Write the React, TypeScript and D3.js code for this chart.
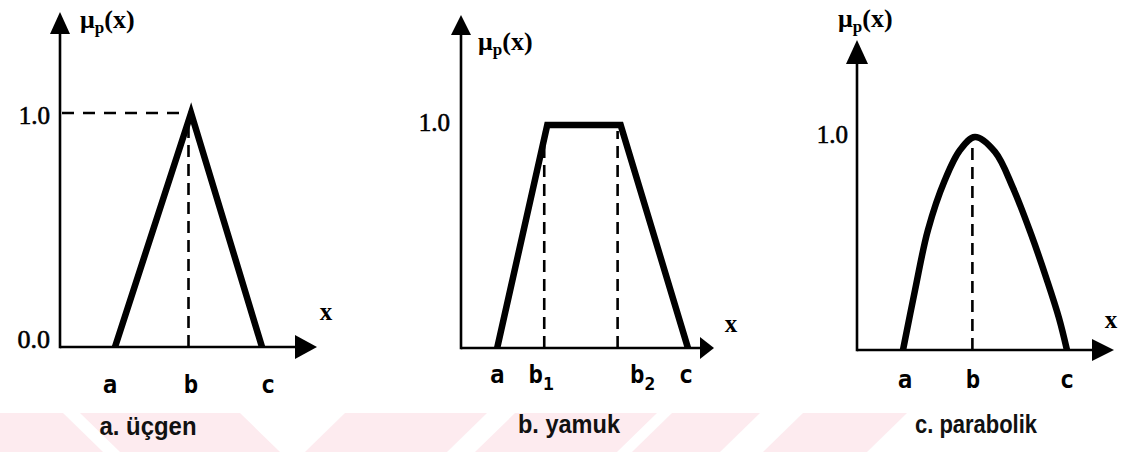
import React from "react";
import * as d3 from "d3";

// Membership functions, x given in percent of the horizontal axis length, mu in [0, 1]
const triangleX = [21.4, 51.0, 78.6];
const triangleMu = [0, 1, 0];
const triangleTicks = ["a", "b", "c"];

const trapezoidX = [14.3, 34.1, 63.1, 89.7];
const trapezoidMu = [0, 1, 1, 0];
const trapezoidTicks = ["a", "b1", "b2", "c"];

const parabolaX = [17.9, 22.6, 27.6, 34.2, 40.1, 45.9, 53.7, 60.7, 67.7, 73.9, 78.6, 81.7];
const parabolaMu = [0, 0.282, 0.563, 0.798, 0.939, 1.0, 0.93, 0.761, 0.545, 0.329, 0.15, 0];
const parabolaTicks = ["a", "b", "c"];

const captions = ["a. üçgen", "b. yamuk", "c. parabolik"];
const levelOne = "1.0";
const levelZero = "0.0";

const W = 1135;
const H = 452;

type Layout = {
  ox: number; // y axis x position
  oy: number; // x axis y position
  tipX: number; // x arrow tip
  tipY: number; // y arrow tip
  oneY: number; // pixel height of mu = 1
  arrowX: [number, number]; // length, half width
  arrowY: [number, number];
  muLabel: [number, number];
  oneLabel: [number, number];
  zeroLabel?: [number, number];
  xLabel: [number, number];
  tickBaseline: number;
  tickDx: number[];
  caption: [number, number, number];
};

const layouts: Layout[] = [
  {
    ox: 60, oy: 347, tipX: 317, tipY: 12, oneY: 113,
    arrowX: [22, 12], arrowY: [22, 10],
    muLabel: [80, 28], oneLabel: [50, 124], zeroLabel: [50, 348],
    xLabel: [326, 320], tickBaseline: 393, tickDx: [-5, 0, 6],
    caption: [148, 435, 97],
  },
  {
    ox: 461, oy: 348, tipX: 714, tipY: 15, oneY: 125,
    arrowX: [14, 11], arrowY: [20, 10],
    muLabel: [478, 50], oneLabel: [450, 131],
    xLabel: [731, 332], tickBaseline: 383, tickDx: [0, -6, 22, -2],
    caption: [569, 433, 102],
  },
  {
    ox: 857, oy: 350, tipX: 1114, tipY: 40, oneY: 137,
    arrowX: [22, 11], arrowY: [24, 11],
    muLabel: [838, 27], oneLabel: [848, 143],
    xLabel: [1111, 328], tickBaseline: 388, tickDx: [2, -2, 0],
    caption: [976, 433, 122],
  },
];

// Light diagonal bands behind the captions: [topLeft, topRight, bottomLeft, bottomRight]
const bandTop = 413;
const bandBottom = 452;
const bandShapes: [number, number, number, number][] = [
  [0, 63, 0, 103],
  [80, 240, 120, 280],
  [345, 487, 305, 447],
  [515, 657, 475, 617],
  [672, 760, 632, 720],
  [803, 907, 763, 867],
];

const serif = "'Liberation Serif', 'DejaVu Serif', serif";
const mono = "'DejaVu Sans Mono', monospace";
const sans = "'Liberation Sans', Arial, sans-serif";

type PanelProps = {
  layout: Layout;
  xs: number[];
  mus: number[];
  ticks: string[];
  smooth?: boolean;
  caption: string;
  guides: { vertical: number[]; horizontal?: number };
  showZero?: boolean;
};

function Panel({ layout, xs, mus, ticks, smooth, caption, guides, showZero }: PanelProps) {
  const x = d3.scaleLinear().domain([0, 100]).range([layout.ox, layout.tipX]);
  const y = d3.scaleLinear().domain([0, 1]).range([layout.oy, layout.oneY]);
  const pts = xs.map((v, i) => [v, mus[i]] as [number, number]);
  const line = d3
    .line<[number, number]>()
    .x((d) => x(d[0]))
    .y((d) => y(d[1]))
    .curve(smooth ? d3.curveCatmullRom.alpha(0.5) : d3.curveLinear);

  const tickXs = smooth
    ? [xs[0], xs[mus.indexOf(d3.max(mus) as number)], xs[xs.length - 1]]
    : xs;

  const [axL, axW] = layout.arrowX;
  const [ayL, ayW] = layout.arrowY;
  const arrowXPath = `M${layout.tipX},${layout.oy} L${layout.tipX - axL},${layout.oy - axW} L${layout.tipX - axL},${layout.oy + axW} Z`;
  const arrowYPath = `M${layout.ox},${layout.tipY} L${layout.ox - ayW},${layout.tipY + ayL} L${layout.ox + ayW},${layout.tipY + ayL} Z`;

  return (
    <g>
      {/* axes */}
      <line x1={layout.ox} y1={layout.oy} x2={layout.tipX - axL + 2} y2={layout.oy} stroke="#000" strokeWidth={2.6} />
      <line x1={layout.ox} y1={layout.oy + 1.3} x2={layout.ox} y2={layout.tipY + ayL - 2} stroke="#000" strokeWidth={2.6} />
      <path d={arrowXPath} fill="#000" />
      <path d={arrowYPath} fill="#000" />

      {/* dashed guides */}
      {guides.horizontal !== undefined && (
        <line
          x1={layout.ox + 2}
          x2={x(guides.horizontal)}
          y1={y(1)}
          y2={y(1)}
          stroke="#000"
          strokeWidth={2.6}
          strokeDasharray="12,9"
        />
      )}
      {guides.vertical.map((v, i) => (
        <line
          key={i}
          x1={x(v)}
          x2={x(v)}
          y1={y(0)}
          y2={y(1) + 6}
          stroke="#000"
          strokeWidth={2.6}
          strokeDasharray="12,7"
        />
      ))}

      {/* membership function */}
      <path d={line(pts) ?? ""} fill="none" stroke="#000" strokeWidth={6.5} strokeLinejoin={smooth ? "round" : "miter"} />

      {/* labels */}
      <text x={layout.muLabel[0]} y={layout.muLabel[1]} fontFamily={serif} fontWeight="bold" fontSize={26} fill="#000">
        μ<tspan fontSize={17} dy={5}>p</tspan>
        <tspan dy={-5}>(x)</tspan>
      </text>
      <text x={layout.oneLabel[0]} y={layout.oneLabel[1]} textAnchor="end" fontFamily={serif} fontSize={25} fill="#000" stroke="#000" strokeWidth={0.6}>
        {levelOne}
      </text>
      {showZero && layout.zeroLabel && (
        <text x={layout.zeroLabel[0]} y={layout.zeroLabel[1]} textAnchor="end" fontFamily={serif} fontSize={26} fill="#000" stroke="#000" strokeWidth={0.6}>
          {levelZero}
        </text>
      )}
      <text x={layout.xLabel[0]} y={layout.xLabel[1]} textAnchor="middle" fontFamily={serif} fontWeight="bold" fontSize={25} fill="#000">
        x
      </text>
      {ticks.map((t, i) => (
        <text
          key={t}
          x={x(tickXs[i]) + layout.tickDx[i]}
          y={layout.tickBaseline}
          textAnchor="middle"
          fontFamily={mono}
          fontWeight="bold"
          fontSize={24}
          fill="#000"
        >
          {t[0]}
          {t.length > 1 && (
            <tspan fontSize={18} dy={7}>
              {t.slice(1)}
            </tspan>
          )}
        </text>
      ))}
      <text
        x={layout.caption[0]}
        y={layout.caption[1]}
        textAnchor="middle"
        fontFamily={sans}
        fontWeight="bold"
        fontSize={26}
        textLength={layout.caption[2]}
        lengthAdjust="spacingAndGlyphs"
        fill="#111"
      >
        {caption}
      </text>
    </g>
  );
}

export default function App() {
  return (
    <svg
      width={W}
      height={H}
      viewBox={`0 0 ${W} ${H}`}
      style={{ position: "absolute", left: 0, top: 0, background: "#fff" }}
    >
      <rect width={W} height={H} fill="#fff" />
      <g>
        {bandShapes.map((s, i) => (
          <polygon
            key={i}
            points={`${s[0]},${bandTop} ${s[1]},${bandTop} ${s[3]},${bandBottom} ${s[2]},${bandBottom}`}
            fill="#fdebef"
          />
        ))}
      </g>
      <Panel
        layout={layouts[0]}
        xs={triangleX}
        mus={triangleMu}
        ticks={triangleTicks}
        caption={captions[0]}
        guides={{ vertical: [triangleX[1] - 1], horizontal: triangleX[1] }}
        showZero
      />
      <Panel
        layout={layouts[1]}
        xs={trapezoidX}
        mus={trapezoidMu}
        ticks={trapezoidTicks}
        caption={captions[1]}
        guides={{ vertical: [trapezoidX[1] - 1.2, trapezoidX[2] - 1.2] }}
      />
      <Panel
        layout={layouts[2]}
        xs={parabolaX}
        mus={parabolaMu}
        ticks={parabolaTicks}
        smooth
        caption={captions[2]}
        guides={{ vertical: [parabolaX[5] - 1] }}
      />
    </svg>
  );
}
